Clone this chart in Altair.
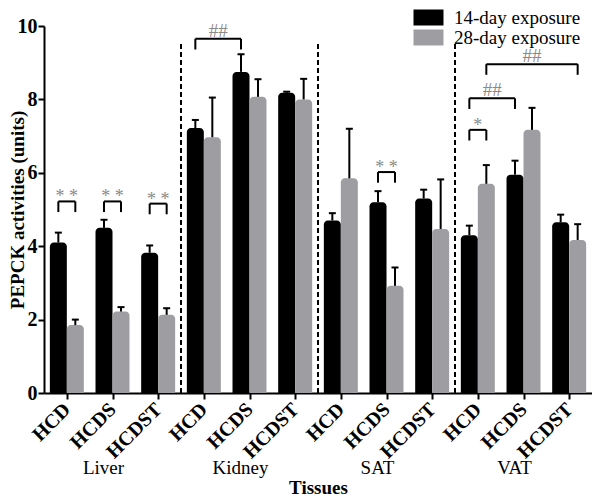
import altair as alt
import pandas as pd

tissues = ["Liver", "Kidney", "SAT", "VAT"]
groups = ["HCD", "HCDS", "HCDST"]
series = ["14-day exposure", "28-day exposure"]
colors = ["#000000", "#9e9ea2"]

mean_14 = [4.10, 4.50, 3.82, 7.22, 8.75, 8.18, 4.70, 5.20, 5.30, 4.30, 5.95, 4.65]
err_14 = [0.27, 0.22, 0.20, 0.22, 0.48, 0.03, 0.20, 0.30, 0.24, 0.26, 0.38, 0.21]
mean_28 = [1.85, 2.22, 2.13, 6.97, 8.07, 8.00, 5.85, 2.92, 4.47, 5.70, 7.17, 4.17]
err_28 = [0.15, 0.12, 0.18, 1.08, 0.48, 0.56, 1.35, 0.50, 1.35, 0.51, 0.60, 0.43]

# significance brackets: (category index, series index) -> (category index, series index)
sig_labels = ["* *", "* *", "* *", "##", "* *", "*", "##", "##"]
sig_start_cat = [0, 1, 2, 3, 7, 9, 9, 9]
sig_start_ser = [0, 0, 0, 0, 0, 0, 0, 1]
sig_end_cat = [0, 1, 2, 4, 7, 9, 10, 11]
sig_end_ser = [1, 1, 1, 0, 1, 1, 0, 1]
sig_top = [5.22, 5.22, 5.16, 9.65, 6.02, 7.17, 8.03, 8.96]
leg_len = 0.29

sep_top = 9.57
FONT = "Liberation Serif"
PAD = 0.344                     # outer padding of a bar pair, in bar widths
BW = 1 / (2 + 2 * PAD)          # one bar's width, in category units

ncat = len(tissues) * len(groups)

rows = []
for i in range(ncat):
    for s, (m, e) in enumerate([(mean_14[i], err_14[i]), (mean_28[i], err_28[i])]):
        left = i + PAD * BW + s * BW
        rows.append({"series": series[s], "x0": left, "x1": left + BW, "xc": left + BW / 2,
                     "mean": m, "top": m + e})
df = pd.DataFrame(rows)

xscale = alt.Scale(domain=[0, ncat], nice=False, zero=False)
yscale = alt.Scale(domain=[0, 10], nice=False)

label_arr = "[" + ",".join(f"'{g}'" for g in groups) + "]"
tick_vals = [i + 0.5 for i in range(ncat)]

bars = alt.Chart(df).mark_bar(cornerRadiusTopLeft=4, cornerRadiusTopRight=4).encode(
    x=alt.X("x0:Q", scale=xscale,
            axis=alt.Axis(values=tick_vals,
                          labelExpr=f"{label_arr}[floor(datum.value) % {len(groups)}]",
                          labelAngle=-45, labelAlign="right", labelBaseline="middle",
                          labelFont=FONT, labelFontWeight="bold",
                          labelFontSize=20, labelColor="black", labelPadding=7,
                          labelOverlap=False, labelFlush=False,
                          title="Tissues", titleFont=FONT, titleFontSize=19,
                          titleFontWeight="bold", titlePadding=17, titleColor="black")),
    x2="x1:Q",
    y=alt.Y("mean:Q", scale=yscale,
            axis=alt.Axis(values=[0, 2, 4, 6, 8, 10], labelFont=FONT, labelFontWeight="bold",
                          labelFontSize=20, labelColor="black", labelPadding=1,
                          title="PEPCK activities (units)", titleFont=FONT, titleFontSize=19,
                          titleFontWeight="bold", titlePadding=-10, titleColor="black")),
    y2=alt.datum(0),
    color=alt.Color("series:N", scale=alt.Scale(domain=series, range=colors),
                    legend=alt.Legend(orient="none", legendX=375, legendY=-18, title=None,
                                      padding=0, labelFont=FONT, labelFontSize=19,
                                      labelColor="black",
                                      symbolType="M-1.875,-1H1.875V1H-1.875Z", symbolSize=256,
                                      symbolStrokeWidth=0, symbolOpacity=1, labelOffset=16,
                                      rowPadding=0)),
)

errs = alt.Chart(df).mark_rule(color="black", strokeWidth=2).encode(
    x=alt.X("xc:Q", scale=xscale),
    y=alt.Y("mean:Q", scale=yscale),
    y2="top:Q",
)
caps = alt.Chart(df).mark_tick(color="black", thickness=2, size=7, opacity=1,
                               orient="horizontal").encode(
    x=alt.X("xc:Q", scale=xscale),
    y=alt.Y("top:Q", scale=yscale),
)

sep_df = pd.DataFrame({"x": [t * len(groups) for t in range(1, len(tissues))],
                       "y0": [0] * 3, "y1": [sep_top] * 3})
seps = alt.Chart(sep_df).mark_rule(color="black", strokeWidth=2, strokeDash=[5, 3]).encode(
    x=alt.X("x:Q", scale=xscale),
    y=alt.Y("y0:Q", scale=yscale),
    y2="y1:Q",
)

grp_df = pd.DataFrame({"x": [t * len(groups) + len(groups) / 2 for t in range(len(tissues))],
                       "label": tissues})
grp = alt.Chart(grp_df).mark_text(font=FONT, fontSize=19, color="black", dx=-9).encode(
    x=alt.X("x:Q", scale=xscale),
    y=alt.value(442),
    text="label:N",
)

centre = [PAD * BW + BW / 2, PAD * BW + 1.5 * BW]
br_rows, leg_rows = [], []
for k in range(len(sig_labels)):
    xa = sig_start_cat[k] + centre[sig_start_ser[k]]
    xb = sig_end_cat[k] + centre[sig_end_ser[k]]
    top = sig_top[k]
    br_rows.append({"xa": xa, "xb": xb, "xm": (xa + xb) / 2, "top": top, "label": sig_labels[k],
                    "kind": "hash" if "#" in sig_labels[k] else "star"})
    leg_rows.append({"x": xa, "y0": top, "y1": top - leg_len})
    leg_rows.append({"x": xb, "y0": top, "y1": top - leg_len})
br_df = pd.DataFrame(br_rows)
leg_df = pd.DataFrame(leg_rows)

hbar = alt.Chart(br_df).mark_rule(color="black", strokeWidth=2).encode(
    x=alt.X("xa:Q", scale=xscale), x2="xb:Q", y=alt.Y("top:Q", scale=yscale))
legs = alt.Chart(leg_df).mark_rule(color="black", strokeWidth=2).encode(
    x=alt.X("x:Q", scale=xscale), y=alt.Y("y0:Q", scale=yscale), y2="y1:Q")
hashes = alt.Chart(br_df).transform_filter(alt.datum.kind == "hash").mark_text(
    font=FONT, fontSize=19, color="#8a8a8a", baseline="alphabetic", dy=-2).encode(
    x=alt.X("xm:Q", scale=xscale), y=alt.Y("top:Q", scale=yscale), text="label:N")
stars = alt.Chart(br_df).transform_filter(alt.datum.kind == "star").mark_text(
    font=FONT, fontSize=18, color="#8a8a8a", baseline="alphabetic", dy=1).encode(
    x=alt.X("xm:Q", scale=xscale), y=alt.Y("top:Q", scale=yscale), text="label:N")

chart = alt.layer(bars, errs, caps, seps, grp, hbar, legs, hashes, stars).properties(
    width=548, height=367, padding=0
).configure_view(stroke=None).configure_axis(
    grid=False, domainColor="black", domainWidth=2, tickColor="black", tickWidth=2, tickSize=6
)

chart.save("out.html", embed_options={"renderer": "svg", "actions": False})
